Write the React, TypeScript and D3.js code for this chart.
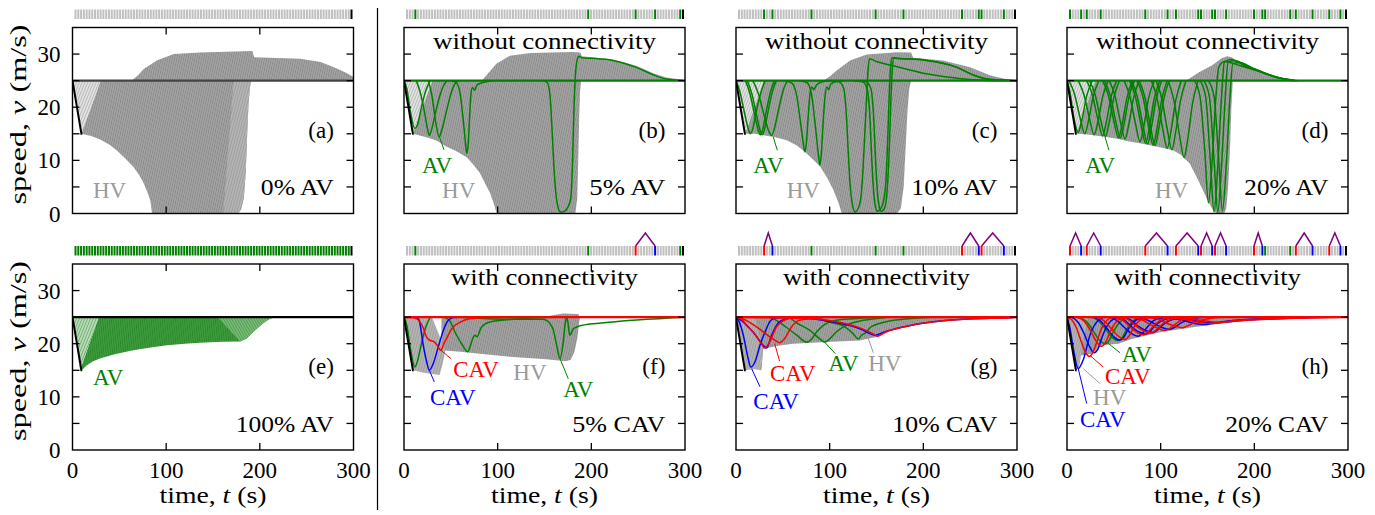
import React from "react";
import * as d3 from "d3";

type Pt = [number, number];

const W = 1375;
const H = 515;

// axes
const timeTicks = [0, 100, 200, 300];
const timeMinor = [100, 200];
const speedTicks = [5, 10, 15, 20, 25, 30];
const speedLabels = [0, 10, 20, 30];
const nVehicles = 100;

// layout
const colLeft = [72.5, 404, 736, 1067];
const rowTop = [27.5, 264];
const panelW = 281;
const panelH = 186;

const HV = "url(#hvTex)";
const HV_LIGHT = "url(#hvHatch)";
const HV_MID = "url(#hvMid)";
const HV_TEXT = "#9a9a9a";
const GREEN = "#008000";
const RED = "#ff0000";
const BLUE = "#0000ff";
const LINK = "#800080";
const BAR = "#c0c0c0";

// ---------- leader ----------
const leader: Pt[] = [[0, 25], [9.5, 15], [10.5, 15]];
const hvWedge: Pt[] = [[0, 25], [9.5, 15], [30, 25]];

// ---------- (a) 0% AV ----------
const hvMassA: Pt[] = [[9.5, 15], [20, 14.6], [30, 13.9], [40, 12.9], [47, 11.9], [55, 10.6], [65, 8.8], [72, 7], [76, 5.7], [80, 4], [83, 2.5], [85, 0], [177, 0], [180, 0.8], [183, 3], [185, 8], [186.5, 15], [188, 21], [190, 24.5], [191, 25], [30, 25]];
const hvLightA: Pt[] = [[161, 0], [177, 0], [180, 0.8], [183, 3], [185, 8], [186.5, 15], [188, 21], [190, 24.5], [191, 25], [172, 25]];
const hvOverA: Pt[] = [[63, 25], [70, 26], [76, 27.2], [90, 28.8], [108, 30], [136, 30.3], [192, 30.6], [194, 29.4], [243, 29.1], [265, 28.5], [279, 27.5], [292, 26.5], [300, 25.7], [300, 25]];

// ---------- (b) 5% AV ----------
const hvMassB: Pt[] = [[9.5, 15], [25, 14.3], [35, 13.7], [45, 12.6], [55, 11.8], [67, 10.6], [75, 9], [81, 7.6], [87, 5.5], [92, 3.8], [96, 1.8], [99, 0], [183, 0], [185, 3], [186, 10], [187, 18], [188, 23], [189, 25], [30, 25]];
const hvOverB: Pt[] = [[83, 25], [88, 26], [98.6, 28.2], [113, 29.7], [135, 30.2], [180, 30.4], [188, 30.3], [190, 29.6], [223, 29], [248, 27.8], [266, 26.4], [280, 25.6], [300, 25.1], [300, 25]];
const avB: Pt[][] = [
  [[0, 25], [3, 23.5], [7, 19], [11.5, 16], [14, 16.5], [18, 19.5], [23, 23], [28, 25]],
  [[13, 25], [17, 23], [22, 19], [25, 16], [27, 14.7], [29, 15.5], [33, 18.5], [38, 22], [42, 24], [46, 25]],
  [[26, 25], [30, 22], [34, 17], [37.5, 14.4], [40, 15.5], [45, 19], [50, 22.5], [54, 24.3], [58, 25]],
  [[50, 25], [56, 24.6], [60, 22.5], [63, 18], [65.5, 13.5], [67, 11.3], [68.5, 13], [70, 18], [71.5, 22.5], [73, 23.7], [75.5, 23.2], [78, 24.2], [85, 24.7], [95, 25]],
  [[148, 25], [153, 24.6], [156, 22], [158, 16], [160, 9], [162, 4], [164, 1.5], [167, 0.3], [171, 0.4], [175, 1.2], [178, 2.8], [180, 10], [181.5, 20], [183, 26], [185, 29], [187, 29.6], [190, 29.3], [200, 29.2], [223, 28.8], [248, 27.5], [266, 26.1], [280, 25.3], [300, 25]],
];

// ---------- (c) 10% AV ----------
const hvMassC: Pt[] = [[9.5, 15], [20, 15], [31, 14.7], [43, 14.3], [54, 13.8], [65, 12.8], [75.5, 11.3], [83, 10], [90, 8.8], [97, 6.8], [104, 4.4], [109, 2.2], [113, 0], [172, 0], [176, 1], [179, 5], [181, 12], [183, 19], [185, 23.5], [187, 25], [30, 25]];
const hvOverC: Pt[] = [[93, 25], [100, 25.8], [107.5, 26.9], [121.7, 28.8], [139.5, 29.9], [171.5, 30.35], [187, 30.3], [189, 29.3], [221, 28.8], [250, 27.5], [271, 26], [290, 25.2], [300, 25]];
const avC: Pt[][] = [
  [[0, 25], [4, 23], [9, 19], [13, 16], [15.5, 15], [18, 16], [22, 19.5], [27, 23], [31, 25]],
  [[10, 25], [15, 22.5], [20, 18.5], [24, 15.5], [26, 14.8], [28, 15.5], [32, 19], [37, 23], [41, 25]],
  [[12, 25], [17, 22.5], [22, 18.5], [26, 15.5], [28, 14.8], [30, 15.5], [34, 19], [39, 23], [43, 25]],
  [[18, 25], [24, 22.5], [30, 18.5], [35, 15.5], [38, 14.7], [41, 16], [46, 20], [51, 23.5], [55, 25]],
  [[52, 25], [60, 24.5], [65, 22], [69, 17], [72, 13], [73.5, 11.6], [75, 13], [77, 18], [79, 22.5], [81, 23.8], [83, 23.3], [86, 24.2], [92, 24.8], [100, 25]],
  [[68, 25], [76, 24.6], [81, 22], [85, 16], [88, 11], [89.6, 9.1], [91, 11], [93, 17], [95, 22], [97, 23.8], [99, 23.3], [101, 24.3], [106, 24.8], [115, 25]],
  [[100, 25], [110, 24.8], [115, 23.5], [118, 18], [120, 11], [122, 5], [124, 2], [127, 0.3], [130, 0.8], [133, 2.5], [135.5, 8], [137.5, 15], [139.5, 22], [141, 27], [142.5, 29.1], [150, 28.6], [172, 27.6], [200, 26.4], [230, 25.6], [260, 25.1], [280, 25], [300, 25]],
  [[125, 25], [135, 24.8], [140, 23.5], [143, 18], [145, 10], [147, 4], [149, 1.2], [151, 0.4], [154, 0.8], [157, 2], [160, 6], [162, 14], [163.5, 22], [165, 27.5], [166.5, 29.3], [170, 29.2], [200, 28.9], [236, 27.5], [254, 26], [272, 25.2], [300, 25]],
  [[130, 25], [139, 24.8], [144, 23.5], [147, 18], [149, 10], [151, 4], [153, 1.2], [155, 0.4], [158, 0.8], [160, 2], [162, 6], [164, 14], [165.5, 22], [167, 27.5], [168.5, 29.3], [172, 29.2], [200, 28.9], [236, 27.5], [254, 26], [272, 25.2], [300, 25]],
];

// ---------- (d) 20% AV ----------
const hvMassD: Pt[] = [[9.5, 15], [20, 14.9], [30, 14.7], [42, 14.4], [55, 14], [65, 13.6], [77.5, 13.2], [90, 12.8], [100, 12.4], [113, 11.9], [122, 11], [131, 9.4], [138, 7], [145, 4.4], [150, 2.5], [156, 0.6], [160, 0], [168, 0], [170, 1], [172, 5], [174, 12], [175.5, 20], [177, 25], [30, 25]];
const hvOverD: Pt[] = [[127, 25], [141, 26.6], [155, 27.9], [165, 29.2], [171, 29.6], [176, 29.4], [184, 28.3], [202, 27.2], [219.6, 25.9], [230, 25.3], [240, 25]];
const avD: Pt[][] = [
  [[0, 25], [3, 23], [7, 18.3], [12, 15.3], [16, 17.7], [21, 22.1], [27, 25]],
  [[2, 25], [8, 22.5], [14, 18], [19, 15], [23, 17.5], [28, 22], [34, 25]],
  [[12, 25], [18, 22.4], [24, 17.9], [29, 14.8], [33, 17.3], [38, 21.9], [44, 25]],
  [[21, 25], [27, 22.4], [33, 17.7], [38, 14.6], [42, 17.2], [47, 21.9], [53, 25]],
  [[24, 25], [30, 22.4], [36, 17.6], [41, 14.5], [45, 17.1], [50, 21.8], [56, 25]],
  [[38, 25], [44, 22.3], [50, 17.4], [55, 14.2], [59, 16.9], [64, 21.8], [70, 25]],
  [[40, 25], [46, 22.3], [52, 17.4], [57, 14.2], [61, 16.9], [66, 21.8], [72, 25]],
  [[45, 25], [51, 22.3], [57, 17.3], [62, 14], [66, 16.8], [71, 21.7], [77, 25]],
  [[61, 25], [67, 22.1], [73, 17], [78, 13.5], [82, 16.4], [87, 21.6], [93, 25]],
  [[67, 25], [73, 22], [79, 16.7], [84, 13.2], [88, 16.2], [93, 21.5], [99, 25]],
  [[69, 25], [75, 22], [81, 16.7], [86, 13.1], [90, 16.1], [95, 21.4], [101, 25]],
  [[75, 25], [81, 22], [87, 16.5], [92, 12.9], [96, 15.9], [101, 21.4], [107, 25]],
  [[77, 25], [83, 22], [89, 16.5], [94, 12.8], [98, 15.9], [103, 21.3], [109, 25]],
  [[90, 25], [96, 21.8], [102, 16.1], [107, 12.3], [111, 15.5], [116, 21.2], [122, 25]],
  [[95, 25], [101, 21.8], [107, 15.9], [112, 12], [116, 15.3], [121, 21.1], [127, 25]],
  [[108, 25], [114, 21.4], [120, 14.9], [125, 10.5], [129, 14.1], [134, 20.7], [140, 25]],
  [[136, 25], [142, 22], [147, 12], [151, 2], [155, 10], [159, 22], [162, 27.5], [168, 28.6], [185, 27.8], [202, 26.9], [220, 25.8], [240, 25]],
  [[142, 25], [148, 22], [153, 10], [157, 0.3], [161, 9], [165, 22], [168, 28.5], [175, 29], [190, 27.8], [205, 26.8], [222, 25.7], [242, 25]],
  [[146, 25], [152, 22], [157, 10], [161, 0.3], [165, 9], [169, 22], [172, 28.5], [179, 28.8], [193, 27.7], [208, 26.6], [225, 25.6], [244, 25]],
  [[151, 25], [157, 22], [162, 10], [166, 0.5], [170, 9], [174, 22], [177, 28.2], [184, 28.4], [198, 27.4], [212, 26.4], [228, 25.5], [246, 25]],
];

// ---------- (e) 100% AV ----------
const avWedgeE: Pt[] = [[0, 25], [8, 15], [28, 25]];
const avMassE: Pt[] = [[8, 15], [9.8, 15], [15, 15.9], [22, 16.7], [29.4, 17.2], [45, 18], [65, 18.75], [80, 19.2], [100.7, 19.7], [120, 20], [136, 20.2], [160, 20.35], [179, 20.4], [186, 21], [193, 22.2], [198, 23], [204, 23.9], [210, 24.6], [215, 25], [28, 25]];
const avLightE: Pt[] = [[155, 25], [179, 20.4], [186, 21], [193, 22.2], [198, 23], [204, 23.9], [210, 24.6], [215, 25]];

// ---------- (f) 5% CAV ----------
const hvWedgeF: Pt[] = [[0, 25], [9.5, 15], [20, 14.6], [30, 14.3], [38, 14.1], [41, 16], [44, 18.7], [30, 25]];
const hvMassF: Pt[] = [[40, 16], [44, 18.7], [60, 18.5], [81, 18.1], [116, 17.5], [152, 17.1], [173, 16.7], [178, 17], [182, 18.5], [185, 21], [187, 24], [188, 25], [40, 25]];
const hvOverF: Pt[] = [[148, 25], [160, 25.4], [170, 25.7], [186, 25.6], [188, 25]];
const avF: Pt[][] = [
  [[0, 25], [3, 23.5], [7, 19], [11.5, 15.6], [14, 16.5], [18, 19.5], [23, 23], [28, 25]],
  [[42, 25], [48, 24.5], [54.4, 22.2], [61.5, 20], [68, 18.5], [71, 19.7], [74, 21.25], [76, 21.6], [78, 21.3], [82.6, 23.1], [91.7, 24.1], [116, 24.6], [140, 24.9], [160, 25]],
  [[0, 25], [60, 25], [80, 24.8], [120, 24.6], [148, 24.6], [152, 24.4], [159, 22.8], [163, 19.7], [166.5, 17.2], [170, 20.3], [172, 23.75], [173.6, 25], [175, 24], [177, 21.6], [180.7, 22.8], [184, 23.1], [187.8, 23.4], [223, 24.1], [259, 24.6], [300, 25]],
];
const redF: Pt[][] = [
  [[0, 25], [10, 24.9], [15, 24.5], [20, 23.2], [24, 21.3], [28, 20.6], [32, 20.4], [35, 19.8], [39.5, 18.75], [42, 19.8], [45.5, 21], [50.8, 22.8], [59.6, 24], [70, 24.7], [88, 24.95], [110, 25]],
];
const blueF: Pt[][] = [
  [[0, 25], [13, 25], [16, 24.5], [20.6, 19.7], [24.2, 16.6], [27, 15], [31.3, 16.3], [36.6, 19.4], [42, 22.5], [47.3, 24.4], [53, 24.95], [60, 25]],
];

// ---------- (g) 10% CAV ----------
const hvWedgeG: Pt[] = [[0, 25], [9.5, 15], [20, 15.2], [27, 15], [29, 19], [20, 25]];
const hvMassG: Pt[] = [[27, 15], [29, 19], [45, 19.6], [61, 20], [96.5, 20.3], [132, 20.6], [150, 21.25], [157, 22], [170, 22.7], [186, 23.4], [221, 24.4], [257, 24.8], [285, 25], [20, 25]];
const avG: Pt[][] = [
  [[0, 25], [35, 25], [43, 24.4], [53.7, 23.1], [64.8, 21.6], [75.5, 20.3], [80.8, 20.9], [86, 22.2], [93, 23.4], [107, 24.4], [125, 24.7], [150, 25]],
  [[0, 25], [55, 25], [64.8, 23.9], [79, 22.5], [89.6, 20.9], [95, 20.3], [100, 20.9], [107, 22.2], [118, 23.5], [136, 24.4], [160, 24.9]],
  [[0, 25], [85, 25], [96, 24.2], [114, 23.4], [125, 21.9], [130.6, 20.9], [134, 21.6], [138, 22], [143, 23], [157, 24], [178, 24.6], [210, 25]],
];
const redG: Pt[][] = [
  [[0, 25], [3.5, 25], [11.5, 23.4], [18.5, 22.2], [25.6, 20.4], [31, 19.2], [36, 20.4], [43, 23.1], [53.7, 24.6], [65, 25]],
  [[0, 25], [7, 24.7], [25.6, 22.7], [36, 21.3], [43, 20.5], [46.5, 20.2], [52, 21], [59, 23.1], [66, 24.3], [78.5, 24.7], [95, 25]],
  [[0, 25], [79, 24.7], [114, 23.9], [135, 22.8], [146, 21.9], [151, 21.4], [155, 21.7], [160, 22.2], [171, 22.8], [185, 23.4], [221, 24.3], [256, 24.7], [292, 24.9], [300, 25]],
];
const blueG: Pt[][] = [
  [[0, 25], [3, 24.3], [7.8, 21.6], [13, 17.2], [15.7, 15.6], [20.3, 16.6], [25.6, 19.7], [31, 22.2], [36.3, 24.2], [42, 24.9], [50, 25]],
  [[0, 25], [7, 24.2], [14, 23], [21, 21.6], [29, 19.7], [32.7, 19.2], [38, 21.6], [45, 23.9], [53.7, 24.7], [65, 25]],
  [[0, 25], [70, 24.9], [100, 24.2], [120, 23.5], [135, 22.6], [143, 21.9], [149, 21.6], [154, 21.9], [160, 22.3], [170, 22.8], [185, 23.4], [221, 24.3], [256, 24.7], [292, 24.9], [300, 25]],
];

// ---------- (h) 20% CAV ----------
const hvWedgeH: Pt[] = [[0, 25], [10, 15], [13, 15.6], [15, 17.8], [22, 25]];
const hvMassH: Pt[] = [[15, 17.8], [26.5, 18.1], [37.5, 19.7], [55, 20], [69, 20.9], [101, 22.2], [134.5, 23.1], [168, 23.9], [203, 24.4], [256, 24.8], [290, 25], [10, 25]];
const avH: Pt[][] = [
  [[12, 25], [20, 24.3], [27, 22.7], [34, 20.8], [41, 20], [45, 20.6], [50, 22.4], [56, 24], [62, 24.8], [68, 25]],
  [[25, 25], [33, 24.4], [41, 22.8], [48, 21.2], [55, 20.6], [59, 21.2], [64, 22.8], [70, 24.2], [76, 24.8], [82, 25]],
];
const blueH: Pt[][] = [
  [[0, 25], [3, 23], [7, 18.8], [12, 15.3], [17.4, 17], [24.5, 21.6], [33.4, 24.4], [40, 25]],
  [[5, 25], [12, 24], [18, 22], [24, 19.5], [29, 18.3], [33, 19], [38, 21.5], [44, 23.7], [50, 24.7], [56, 25]],
  [[27, 25], [35, 24.4], [43, 22.8], [50, 21.3], [57, 20.7], [61, 21.3], [66, 22.9], [72, 24.2], [78, 24.8], [85, 25]],
  [[45, 25], [53, 24.4], [61, 23.1], [69, 21.9], [76, 21.4], [80, 21.9], [86, 23.2], [92, 24.3], [100, 24.8], [108, 25]],
  [[52, 25], [61, 24.5], [69, 23.2], [77, 22.2], [84, 21.8], [88, 22.2], [94, 23.4], [101, 24.3], [109, 24.8], [117, 25]],
  [[59, 25], [68, 24.5], [76, 23.3], [84, 22.5], [92, 22.1], [96, 22.5], [102, 23.5], [109, 24.3], [117, 24.8], [126, 25]],
  [[75, 25], [85, 24.5], [94, 23.7], [102, 23], [109, 22.7], [114, 23], [120, 23.7], [127, 24.4], [136, 24.8], [146, 25]],
  [[105, 25], [118, 24.6], [130, 24.1], [140, 23.7], [147, 23.6], [154, 23.8], [165, 24.1], [180, 24.4], [205, 24.7], [240, 24.9], [270, 25]],
  [[113, 25], [127, 24.6], [140, 24.2], [150, 24], [157, 23.9], [164, 24], [176, 24.2], [194, 24.5], [220, 24.7], [255, 24.9], [285, 25]],
];
const redH: Pt[][] = [
  [[0, 25], [5, 24.5], [10, 23], [15, 20.5], [20, 18.3], [24, 17.6], [28, 18.5], [33, 21], [38, 23.3], [44, 24.6], [50, 25]],
  [[10, 25], [18, 24.3], [25, 22.5], [31, 20.5], [37, 19.5], [41, 20.2], [46, 22.2], [52, 24], [58, 24.8], [64, 25]],
  [[31, 25], [39, 24.4], [47, 22.9], [55, 21.4], [62, 20.8], [66, 21.4], [71, 23], [77, 24.3], [84, 24.8], [90, 25]],
  [[50, 25], [59, 24.5], [67, 23.2], [75, 22.1], [82, 21.7], [86, 22.1], [92, 23.3], [99, 24.3], [107, 24.8], [115, 25]],
  [[57, 25], [66, 24.5], [74, 23.3], [82, 22.4], [90, 22], [94, 22.4], [100, 23.4], [107, 24.3], [115, 24.8], [124, 25]],
  [[70, 25], [80, 24.5], [89, 23.6], [97, 22.9], [104, 22.5], [109, 22.8], [115, 23.6], [122, 24.4], [131, 24.8], [141, 25]],
  [[86, 25], [97, 24.6], [107, 23.8], [116, 23.3], [123, 23], [128, 23.3], [135, 23.9], [143, 24.4], [153, 24.8], [165, 25]],
  [[110, 25], [124, 24.6], [137, 24.2], [147, 23.9], [153, 23.8], [160, 23.9], [172, 24.2], [190, 24.5], [215, 24.7], [250, 24.9], [280, 25]],
  [[118, 25], [133, 24.7], [146, 24.3], [156, 24.1], [163, 24], [170, 24.1], [182, 24.3], [200, 24.5], [228, 24.7], [260, 24.9], [295, 25]],
];

// ---------- vehicle strips (index 0 = last vehicle, 99 = leader) ----------
const stripAvB = [3, 65, 82, 89, 98];
const stripAvC = [9, 12, 26, 49, 59, 80, 86, 87, 95];
const stripAvD = [0, 4, 6, 11, 27, 35, 38, 46, 47, 51, 52, 56, 66, 69, 70, 79, 81, 87, 93, 97];
const stripAvF = [3, 65, 98];
const stripRedF = [82];
const stripBlueF = [89];
const stripAvG = [26, 49, 59];
const stripRedG = [9, 80, 87];
const stripBlueG = [12, 86, 95];
const stripAvH = [70, 79];
const stripRedH = [0, 6, 27, 38, 47, 52, 66, 81, 93];
const stripBlueH = [4, 11, 35, 46, 51, 56, 69, 87, 97];

type Label = { text: string; t: number; v: number; color: string; ptr?: [Pt, Pt] };
type Mass = { pts: Pt[]; fill: string };

type PanelCfg = {
  col: number;
  row: number;
  masses: Mass[];
  green: Pt[][];
  red: Pt[][];
  blue: Pt[][];
  base: string;
  title?: string;
  titleW?: number;
  tag: string;
  pct: string;
  pctW: number;
  labels: Label[];
  stripGreen: number[];
  stripRed: number[];
  stripBlue: number[];
  allGreen?: boolean;
};

const panels: PanelCfg[] = [
  {
    col: 0, row: 0,
    masses: [{ pts: hvMassA, fill: HV }, { pts: hvLightA, fill: HV_MID }, { pts: hvOverA, fill: HV }, { pts: hvWedge, fill: HV_LIGHT }],
    green: [], red: [], blue: [], base: "#444",
    tag: "(a)", pct: "0% AV", pctW: 73,
    labels: [{ text: "HV", t: 21.9, v: 2.85, color: HV_TEXT }],
    stripGreen: [], stripRed: [], stripBlue: [],
  },
  {
    col: 1, row: 0,
    masses: [{ pts: hvMassB, fill: HV }, { pts: hvOverB, fill: HV }, { pts: hvWedge, fill: HV_LIGHT }],
    green: avB, red: [], blue: [], base: GREEN,
    title: "without connectivity", titleW: 223,
    tag: "(b)", pct: "5% AV", pctW: 76,
    labels: [
      { text: "AV", t: 19.2, v: 7.6, color: GREEN, ptr: [[42.7, 12.0], [37.7, 14.5]] },
      { text: "HV", t: 40.6, v: 2.9, color: HV_TEXT },
    ],
    stripGreen: stripAvB, stripRed: [], stripBlue: [],
  },
  {
    col: 2, row: 0,
    masses: [{ pts: hvMassC, fill: HV }, { pts: hvOverC, fill: HV }, { pts: hvWedge, fill: HV_LIGHT }],
    green: avC, red: [], blue: [], base: GREEN,
    title: "without connectivity", titleW: 223,
    tag: "(c)", pct: "10% AV", pctW: 86,
    labels: [
      { text: "AV", t: 18.5, v: 7.6, color: GREEN, ptr: [[44.1, 11.9], [39.8, 14.4]] },
      { text: "HV", t: 54.1, v: 2.9, color: HV_TEXT },
    ],
    stripGreen: stripAvC, stripRed: [], stripBlue: [],
  },
  {
    col: 3, row: 0,
    masses: [{ pts: hvMassD, fill: HV }, { pts: hvOverD, fill: HV }, { pts: hvWedge, fill: HV_LIGHT }],
    green: avD, red: [], blue: [], base: GREEN,
    title: "without connectivity", titleW: 223,
    tag: "(d)", pct: "20% AV", pctW: 84,
    labels: [
      { text: "AV", t: 19.2, v: 7.6, color: GREEN, ptr: [[44.8, 11.9], [40.6, 14.4]] },
      { text: "HV", t: 93.9, v: 2.9, color: HV_TEXT },
    ],
    stripGreen: stripAvD, stripRed: [], stripBlue: [],
  },
  {
    col: 0, row: 1,
    masses: [{ pts: avMassE, fill: "url(#avTex)" }, { pts: avLightE, fill: "url(#avMid)" }, { pts: avWedgeE, fill: "url(#avHatch)" }],
    green: [], red: [], blue: [], base: "#000",
    tag: "(e)", pct: "100% AV", pctW: 98,
    labels: [{ text: "AV", t: 21.9, v: 12.2, color: GREEN }],
    stripGreen: [], stripRed: [], stripBlue: [], allGreen: true,
  },
  {
    col: 1, row: 1,
    masses: [{ pts: hvMassF, fill: HV }, { pts: hvOverF, fill: HV }, { pts: hvWedgeF, fill: HV_MID }],
    green: avF, red: redF, blue: blueF, base: RED,
    title: "with connectivity", titleW: 187,
    tag: "(f)", pct: "5% CAV", pctW: 93,
    labels: [
      { text: "CAV", t: 52.6, v: 13.75, color: RED, ptr: [[50, 17.2], [38.5, 18.9]] },
      { text: "CAV", t: 27.8, v: 8.4, color: BLUE, ptr: [[32.4, 12.8], [27, 15]] },
      { text: "HV", t: 116.7, v: 13.1, color: HV_TEXT },
      { text: "AV", t: 170, v: 10, color: GREEN, ptr: [[175.4, 13.4], [166.5, 17.2]] },
    ],
    stripGreen: stripAvF, stripRed: stripRedF, stripBlue: stripBlueF,
  },
  {
    col: 2, row: 1,
    masses: [{ pts: hvMassG, fill: HV }, { pts: hvWedgeG, fill: HV_MID }],
    green: avG, red: redG, blue: blueG, base: RED,
    title: "with connectivity", titleW: 187,
    tag: "(g)", pct: "10% CAV", pctW: 105,
    labels: [
      { text: "CAV", t: 36.3, v: 12.9, color: RED, ptr: [[46.6, 16.7], [41.3, 20]] },
      { text: "CAV", t: 18.5, v: 7.7, color: BLUE, ptr: [[25.6, 11.9], [16.7, 15.3]] },
      { text: "AV", t: 98.5, v: 14.8, color: GREEN, ptr: [[106.2, 18.1], [94.5, 20.3]] },
      { text: "HV", t: 141.2, v: 14.8, color: HV_TEXT, ptr: [[146.6, 18.3], [141.2, 21]] },
    ],
    stripGreen: stripAvG, stripRed: stripRedG, stripBlue: stripBlueG,
  },
  {
    col: 3, row: 1,
    masses: [{ pts: hvMassH, fill: HV }, { pts: hvWedgeH, fill: HV_MID }],
    green: avH, red: redH, blue: blueH, base: RED,
    title: "with connectivity", titleW: 187,
    tag: "(h)", pct: "20% CAV", pctW: 103,
    labels: [
      { text: "AV", t: 58.4, v: 16.5, color: GREEN, ptr: [[56.6, 18.3], [42.3, 20.3]] },
      { text: "CAV", t: 40.6, v: 12.4, color: RED, ptr: [[38.7, 15.6], [24.5, 17.8]] },
      { text: "HV", t: 27.8, v: 8.5, color: HV_TEXT, ptr: [[35.2, 12.5], [17.4, 15.3]] },
      { text: "CAV", t: 13.9, v: 4.3, color: BLUE, ptr: [[21, 8.75], [12, 15.3]] },
    ],
    stripGreen: stripAvH, stripRed: stripRedH, stripBlue: stripBlueH,
  },
];

const FS = 23;
const FONT = "Liberation Serif";

function Panel({ cfg, idx }: { cfg: PanelCfg; idx: number }) {
  const left = colLeft[cfg.col];
  const top = rowTop[cfg.row];
  const x = d3.scaleLinear().domain([0, 300]).range([left, left + panelW]);
  const y = d3.scaleLinear().domain([0, 35]).range([top + panelH, top]);
  const curve = d3.line<Pt>().x((d) => x(d[0])).y((d) => y(d[1])).curve(d3.curveMonotoneX);
  const poly = d3.line<Pt>().x((d) => x(d[0])).y((d) => y(d[1])).curve(d3.curveLinearClosed);
  const clipId = `clip-${idx}`;

  const band = d3.scaleBand<number>().domain(d3.range(nVehicles)).range([left + 2, left + panelW - 1]).paddingInner(0.28);
  const stripTop = top - 18;
  const barColor = (k: number) => {
    if (k === nVehicles - 1) return "#000";
    if (cfg.allGreen) return GREEN;
    if (cfg.stripRed.includes(k)) return RED;
    if (cfg.stripBlue.includes(k)) return BLUE;
    if (cfg.stripGreen.includes(k)) return GREEN;
    return BAR;
  };
  const cx = (k: number) => (band(k) as number) + band.bandwidth() / 2;
  const txt = { fontFamily: FONT, fontSize: FS };

  return (
    <g>
      <defs>
        <clipPath id={clipId}>
          <rect x={left} y={top} width={panelW} height={panelH} />
        </clipPath>
      </defs>

      {/* vehicle strip */}
      {d3.range(nVehicles).map((k) => (
        <rect key={k} x={band(k)} y={stripTop} width={band.bandwidth()} height={9.5} fill={barColor(k)} />
      ))}
      {cfg.stripRed.map((r, i) => {
        const b = cfg.stripBlue[i];
        const m = (cx(r) + cx(b)) / 2;
        return (
          <polyline key={`l${i}`} points={`${cx(r)},${stripTop} ${m},${stripTop - 13} ${cx(b)},${stripTop}`} fill="none" stroke={LINK} strokeWidth={1.5} />
        );
      })}

      <g clipPath={`url(#${clipId})`}>
        {cfg.masses.map((m, i) => (
          <path key={`m${i}`} d={poly(m.pts) || ""} fill={m.fill} />
        ))}
        {cfg.green.map((l, i) => (
          <path key={`g${i}`} d={curve(l) || ""} fill="none" stroke={GREEN} strokeWidth={1.5} />
        ))}
        {cfg.blue.map((l, i) => (
          <path key={`b${i}`} d={curve(l) || ""} fill="none" stroke={BLUE} strokeWidth={1.5} />
        ))}
        {cfg.red.map((l, i) => (
          <path key={`r${i}`} d={curve(l) || ""} fill="none" stroke={RED} strokeWidth={1.5} />
        ))}
        <line x1={x(0)} x2={x(300)} y1={y(25)} y2={y(25)} stroke={cfg.base} strokeWidth={2.2} />
        <path d={d3.line<Pt>().x((d) => x(d[0])).y((d) => y(d[1]))(leader) || ""} fill="none" stroke="#000" strokeWidth={2} />
      </g>

      {/* frame & ticks */}
      <rect x={left} y={top} width={panelW} height={panelH} fill="none" stroke="#000" strokeWidth={1.4} />
      {speedTicks.map((v) => (
        <g key={`yt${v}`}>
          <line x1={left} x2={left + 7} y1={y(v)} y2={y(v)} stroke="#000" strokeWidth={1.3} />
          <line x1={left + panelW - 7} x2={left + panelW} y1={y(v)} y2={y(v)} stroke="#000" strokeWidth={1.3} />
        </g>
      ))}
      {timeMinor.map((t) => (
        <g key={`xt${t}`}>
          <line x1={x(t)} x2={x(t)} y1={top} y2={top + 7} stroke="#000" strokeWidth={1.3} />
          <line x1={x(t)} x2={x(t)} y1={top + panelH - 7} y2={top + panelH} stroke="#000" strokeWidth={1.3} />
        </g>
      ))}

      {cfg.col === 0 &&
        speedLabels.map((v) => (
          <text key={`yl${v}`} x={left - 12} y={y(v) + 8} textAnchor="end" style={txt}>
            {v}
          </text>
        ))}
      {cfg.col === 0 && (
        <text
          transform={`translate(26,${top + panelH / 2 - 6}) rotate(-90)`}
          textAnchor="middle"
          style={txt}
          textLength={180}
          lengthAdjust="spacingAndGlyphs"
        >
          speed, <tspan fontStyle="italic">v</tspan> (m/s)
        </text>
      )}
      {cfg.row === 1 &&
        timeTicks.map((t) => (
          <text key={`xl${t}`} x={x(t)} y={478} textAnchor="middle" style={txt}>
            {t}
          </text>
        ))}
      {cfg.row === 1 && (
        <text x={left + panelW / 2} y={503} textAnchor="middle" style={txt} textLength={107} lengthAdjust="spacingAndGlyphs">
          time, <tspan fontStyle="italic">t</tspan> (s)
        </text>
      )}

      {cfg.title && (
        <text x={left + panelW / 2} y={top + 21} textAnchor="middle" style={txt} textLength={cfg.titleW} lengthAdjust="spacingAndGlyphs">
          {cfg.title}
        </text>
      )}
      <text x={x(279)} y={y(14.3)} textAnchor="end" style={txt}>
        {cfg.tag}
      </text>
      <text x={x(279)} y={y(3.45)} textAnchor="end" style={txt} textLength={cfg.pctW} lengthAdjust="spacingAndGlyphs">
        {cfg.pct}
      </text>

      {cfg.labels.map((lb, i) => (
        <g key={`lb${i}`}>
          {lb.ptr && (
            <line x1={x(lb.ptr[0][0])} y1={y(lb.ptr[0][1])} x2={x(lb.ptr[1][0])} y2={y(lb.ptr[1][1])} stroke={lb.color} strokeWidth={1} />
          )}
          <text x={x(lb.t)} y={y(lb.v)} style={txt} fill={lb.color}>
            {lb.text}
          </text>
        </g>
      ))}
    </g>
  );
}

function Texture({ id, bg, fg, step, angle, width }: { id: string; bg: string; fg: string; step: number; angle: number; width: number }) {
  return (
    <pattern id={id} patternUnits="userSpaceOnUse" width={step} height={step} patternTransform={`rotate(${angle})`}>
      <rect width={step} height={step} fill={bg} />
      <line x1={0} y1={0} x2={0} y2={step} stroke={fg} strokeWidth={width} />
    </pattern>
  );
}

export default function App() {
  return (
    <svg
      width={W}
      height={H}
      viewBox={`0 0 ${W} ${H}`}
      style={{ position: "absolute", left: 0, top: 0, background: "#fff", fontFamily: FONT }}
    >
      <defs>
        <Texture id="hvTex" bg="#a2a2a2" fg="#7e7e7e" step={2.2} angle={12} width={1} />
        <Texture id="hvMid" bg="#b4b4b4" fg="#888888" step={2.6} angle={15} width={0.9} />
        <Texture id="hvHatch" bg="#e2e2e2" fg="#8c8c8c" step={2.6} angle={22} width={0.9} />
        <Texture id="avTex" bg="#3d9a3d" fg="#1f7f1f" step={2.2} angle={-6} width={1} />
        <Texture id="avMid" bg="#79b879" fg="#2a8a2a" step={2.4} angle={-30} width={0.9} />
        <Texture id="avHatch" bg="#b7dab7" fg="#2a8a2a" step={2.6} angle={22} width={0.9} />
      </defs>
      <rect width={W} height={H} fill="#fff" />
      {panels.map((p, i) => (
        <Panel key={i} cfg={p} idx={i} />
      ))}
      <line x1={377.5} x2={377.5} y1={8} y2={510} stroke="#000" strokeWidth={1.2} />
    </svg>
  );
}
